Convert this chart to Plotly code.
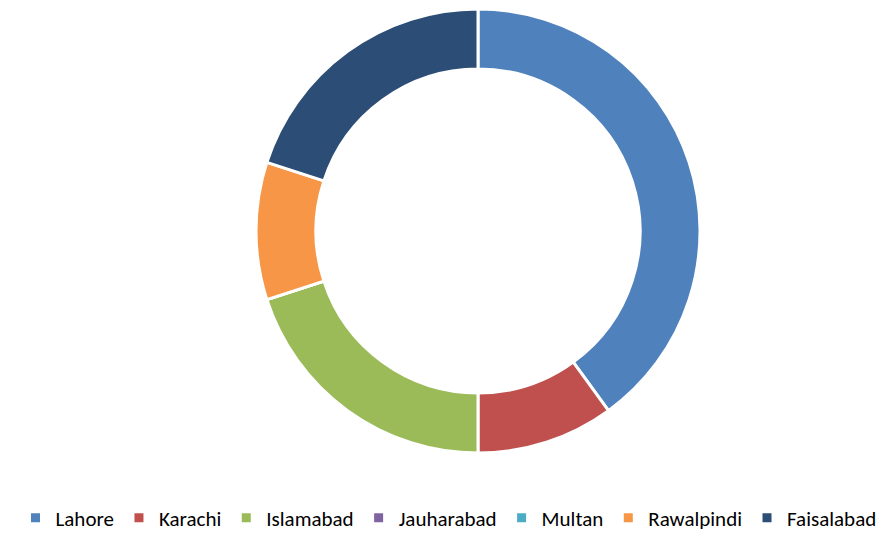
import plotly.graph_objects as go

cities = ["Lahore", "Karachi", "Islamabad", "Jauharabad", "Multan", "Rawalpindi", "Faisalabad"]
values = [4, 1, 2, 0, 0, 1, 2]
colors = ["#4F81BD", "#C0504D", "#9BBB59", "#8064A2", "#4BACC6", "#F79646", "#2C4D75"]

fig = go.Figure(go.Pie(
    labels=cities,
    values=values,
    hole=0.73,
    sort=False,
    direction="clockwise",
    rotation=0,
    textinfo="none",
    hoverinfo="label+value+percent",
    domain=dict(x=[58 / 882, 1.0], y=[0, 1]),
    marker=dict(colors=colors, line=dict(color="white", width=3)),
))

# page body adds an 8px offset, so the figure is 8px smaller than the window
fig.update_layout(
    width=882, height=525,
    margin=dict(l=0, r=0, t=1, b=80, autoexpand=False),
    paper_bgcolor="white",
    plot_bgcolor="white",
    font=dict(family="Carlito, Calibri, Lato, sans-serif", size=21, color="#000000"),
    showlegend=True,
    legend=dict(
        orientation="h",
        x=0.4994, xanchor="center", xref="container",
        y=0.0286, yanchor="middle", yref="container",
        font=dict(size=21),
        traceorder="normal",
    ),
)

fig.write_html("out.html")
